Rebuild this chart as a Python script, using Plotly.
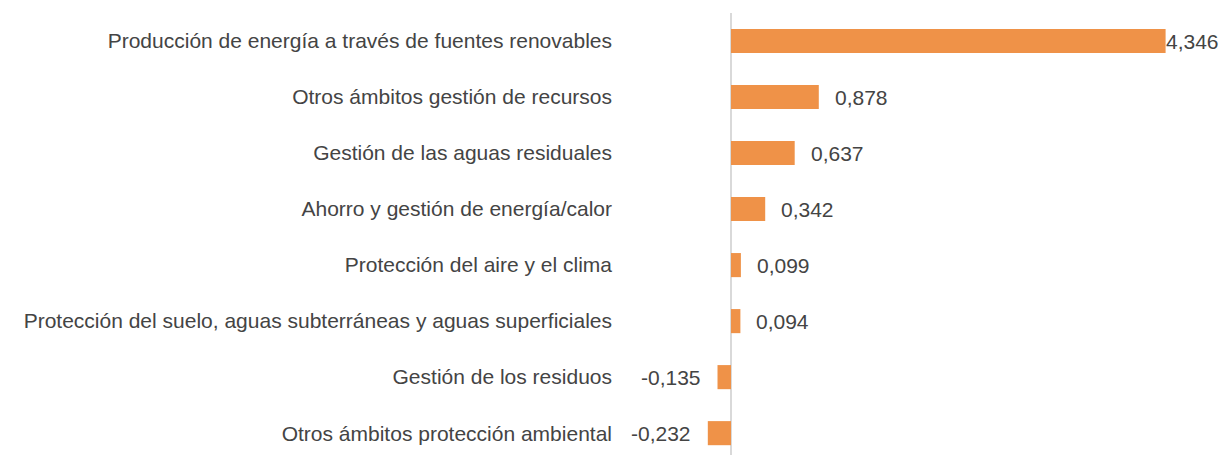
import plotly.graph_objects as go

categories = [
    "Producción de energía a través de fuentes renovables",
    "Otros ámbitos gestión de recursos",
    "Gestión de las aguas residuales",
    "Ahorro y gestión de energía/calor",
    "Protección del aire y el clima",
    "Protección del suelo, aguas subterráneas y aguas superficiales",
    "Gestión de los residuos",
    "Otros ámbitos protección ambiental",
]
values = [4.346, 0.878, 0.637, 0.342, 0.099, 0.094, -0.135, -0.232]
value_labels = ["4,346", "0,878", "0,637", "0,342", "0,099", "0,094", "-0,135", "-0,232"]

BAR = "#EF9248"
TXT = "#444444"
FONT = "Liberation Sans, Arial, sans-serif"
FS = 21

fig = go.Figure()
fig.add_trace(go.Bar(
    y=categories, x=values, orientation="h",
    marker=dict(color=BAR, line=dict(width=0)),
    width=0.43, hoverinfo="skip",
))

for i, (c, v, t) in enumerate(zip(categories, values, value_labels)):
    if v >= 0:
        shift = -2 if i == 0 else 14
        fig.add_annotation(x=v, y=c, text=t, showarrow=False, xanchor="left",
                           xshift=shift, font=dict(size=FS, color=TXT, family=FONT))
    else:
        fig.add_annotation(x=v, y=c, text=t, showarrow=False, xanchor="right",
                           xshift=-15, font=dict(size=FS, color=TXT, family=FONT))

fig.update_layout(
    width=1219, height=455,
    margin=dict(l=625, r=0, t=13, b=0, autoexpand=False),
    paper_bgcolor="white", plot_bgcolor="white",
    showlegend=False,
    font=dict(family=FONT, size=FS, color=TXT),
    xaxis=dict(range=[-1.06, 4.88], showgrid=False, showticklabels=False,
               zeroline=True, zerolinecolor="#D9D9D9", zerolinewidth=2, fixedrange=True),
    yaxis=dict(categoryorder="array", categoryarray=categories,
               range=[7.39, -0.5], showgrid=False, zeroline=False, automargin=False,
               ticks="", ticklabelstandoff=12, fixedrange=True,
               tickfont=dict(size=FS, color=TXT, family=FONT)),
)

fig.write_html("out.html", config={"displayModeBar": False},
               post_script="document.body.style.margin='0';")
